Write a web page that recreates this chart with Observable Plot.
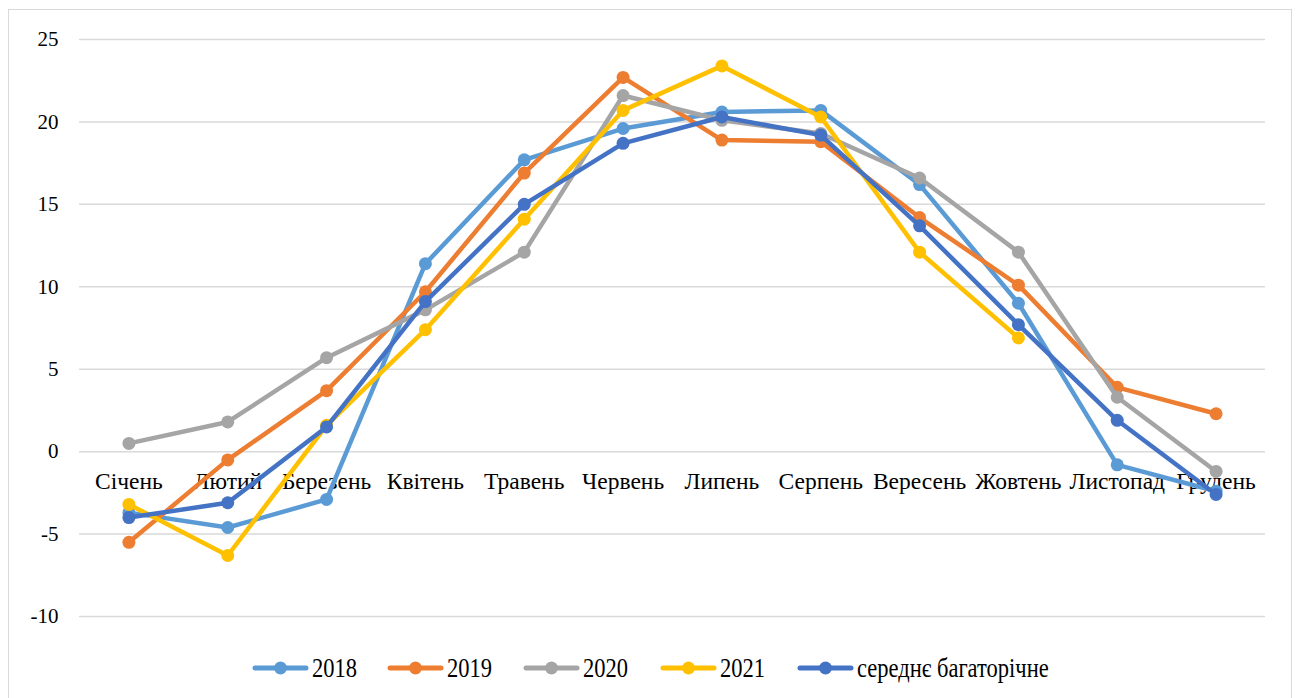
<!DOCTYPE html>
<html>
<head>
<meta charset="utf-8">
<script src="https://cdn.jsdelivr.net/npm/d3@7"></script>
<script src="https://cdn.jsdelivr.net/npm/@observablehq/plot@0.6"></script>
<style>
  html, body { margin: 0; padding: 0; background: #fff; width: 1298px; height: 698px; overflow: hidden; }
  #frame { position: absolute; left: 8px; top: 9px; width: 1284px; height: 720px; border: 1.5px solid #d9d9d9; box-sizing: border-box; }
  #chart { position: absolute; left: 0; top: 0; }
  #legend { position: absolute; left: 0; top: 656px; width: 1298px; height: 24px; font-family: "Liberation Serif", "Times New Roman", serif; font-size: 22.5px; color: #000; }
  #legend .item { position: absolute; top: 0; display: flex; align-items: center; height: 24px; }
  #legend .item span { display: inline-block; transform: scaleY(1.25); margin-left: 3px; white-space: nowrap; line-height: 24px; }
</style>
</head>
<body>
<div id="frame"></div>
<div id="chart"></div>
<div id="legend"></div>
<script>
const months = ["Січень","Лютий","Березень","Квітень","Травень","Червень","Липень","Серпень","Вересень","Жовтень","Листопад","Грудень"];
const seriesNames = ["2018","2019","2020","2021","середнє багаторічне"];
const seriesColors = ["#5B9BD5","#ED7D31","#A5A5A5","#FFC000","#4472C4"];
const v2018 = [-3.7,-4.6,-2.9,11.4,17.7,19.6,20.6,20.7,16.2,9.0,-0.8,-2.4];
const v2019 = [-5.5,-0.5,3.7,9.7,16.9,22.7,18.9,18.8,14.2,10.1,3.9,2.3];
const v2020 = [0.5,1.8,5.7,8.6,12.1,21.6,20.1,19.3,16.6,12.1,3.3,-1.2];
const v2021 = [-3.2,-6.3,1.6,7.4,14.1,20.7,23.4,20.3,12.1,6.9,null,null];
const vAvg  = [-4.0,-3.1,1.5,9.1,15.0,18.7,20.3,19.2,13.7,7.7,1.9,-2.6];
const yTicks = [-10,-5,0,5,10,15,20,25];

const allValues = [v2018, v2019, v2020, v2021, vAvg];
const data = [];
allValues.forEach((vals, si) => {
  vals.forEach((v, i) => {
    if (v !== null) data.push({series: seriesNames[si], month: months[i], value: v});
  });
});

const lineMarks = [];
seriesNames.forEach((name, si) => {
  const d = data.filter(r => r.series === name);
  lineMarks.push(Plot.line(d, {x: "month", y: "value", stroke: seriesColors[si], strokeWidth: 4.5, strokeLinejoin: "round", strokeLinecap: "round"}));
  lineMarks.push(Plot.dot(d, {x: "month", y: "value", fill: seriesColors[si], r: 6.5, stroke: "none"}));
});

const chart = Plot.plot({
  width: 1298,
  height: 640,
  marginLeft: 79,
  marginRight: 33,
  marginTop: 39,
  marginBottom: 24,
  style: {fontFamily: "'Liberation Serif', 'Times New Roman', serif", background: "transparent"},
  x: {type: "point", domain: months, padding: 0.5, round: false, axis: null},
  y: {domain: [-10, 25], axis: null},
  marks: [
    Plot.gridY(yTicks, {stroke: "#d9d9d9", strokeOpacity: 1, strokeWidth: 1.5}),
    Plot.axisY(yTicks, {tickSize: 0, tickPadding: 21, fontSize: 21, label: null, tickFormat: d => String(d), color: "#000"}),
    Plot.text(months, {x: d => d, y: () => 0, dy: 30, fontSize: 23.5, fill: "#000", lineAnchor: "middle"}),
    ...lineMarks
  ]
});
document.getElementById("chart").appendChild(chart);

const legend = document.getElementById("legend");
const legendLefts = [252, 387, 523, 660, 797];
seriesNames.forEach((name, si) => {
  const item = document.createElement("div");
  item.className = "item";
  item.style.left = legendLefts[si] + "px";
  item.innerHTML = `<svg width="57" height="16"><line x1="3" y1="8" x2="54" y2="8" stroke="${seriesColors[si]}" stroke-width="5" stroke-linecap="round"/><circle cx="28.5" cy="8" r="6.5" fill="${seriesColors[si]}"/></svg><span>${name}</span>`;
  legend.appendChild(item);
});
</script>
</body>
</html>
